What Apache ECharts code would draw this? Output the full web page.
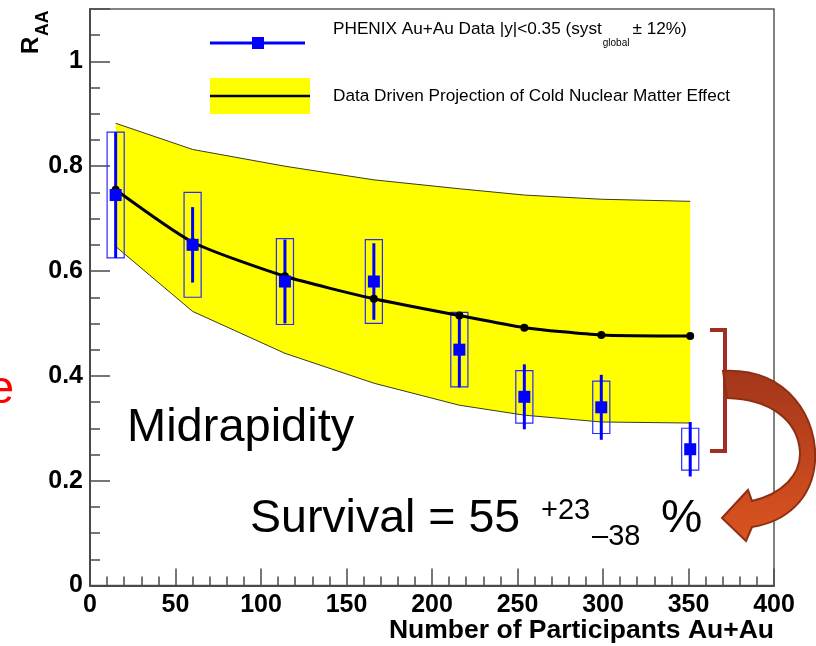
<!DOCTYPE html>
<html>
<head>
<meta charset="utf-8">
<script src="https://cdn.jsdelivr.net/npm/echarts@6/dist/echarts.min.js"></script>
<style>
  html, body { margin: 0; padding: 0; background: #ffffff; }
  #chart { width: 816px; height: 646px; }
</style>
</head>
<body>
<div id="chart"></div>
<script>
// Number of participants for each centrality bin
const npart = [15, 60, 114, 166, 216, 254, 299, 351];
// PHENIX Au+Au J/psi R_AA at midrapidity
const raa = [0.745, 0.65, 0.58, 0.58, 0.45, 0.36, 0.34, 0.26];
// statistical (bar) and systematic (box) uncertainties
const statErr = [0.12, 0.072, 0.08, 0.073, 0.072, 0.062, 0.062, 0.052];
const systErr = [0.12, 0.10, 0.082, 0.08, 0.071, 0.05, 0.05, 0.04];
// cold nuclear matter projection: central curve and band edges
const cnmCentral = [0.755, 0.655, 0.59, 0.547, 0.515, 0.492, 0.478, 0.476];
const cnmUpper = [0.882, 0.832, 0.80, 0.774, 0.757, 0.745, 0.737, 0.733];
const cnmLower = [0.647, 0.523, 0.443, 0.386, 0.344, 0.325, 0.312, 0.31];
// half width of the systematic boxes, in Npart units
const boxHalfWidth = 5;

const FONT = '"Liberation Sans", Arial, Helvetica, sans-serif';
const mctx = document.createElement('canvas').getContext('2d');
function textWidth(t, font) { mctx.font = font; return mctx.measureText(t).width; }

// curved arrow outline, registered as a reusable shape
echarts.graphic.registerShape('curvedArrow', echarts.graphic.extendPath(
  'M 723 371 C 790 368 818 420 815 462 C 812 500 785 522 752 527 L 746 541 L 722 518 L 748 490 L 752 501 C 782 494 801 475 800 452 C 798 420 770 399 727 398 Z',
  {}
));

const chart = echarts.init(document.getElementById('chart'), null, { renderer: 'canvas' });

const axisColor = '#4a4a4a';

// legend pieces (drawn as graphics inside the frame)
const legFont = '17.2px ' + FONT;
const leg1a = 'PHENIX Au+Au Data |y|<0.35 (syst';
const leg1aW = textWidth(leg1a, legFont);
const legSubFont = '10px ' + FONT;
const leg1sub = 'global';
const leg1subW = textWidth(leg1sub, legSubFont);

function txt(x, y, text, font, fill, align, extra) {
  return Object.assign({
    type: 'text', x: x, y: y, z: 60,
    style: { text: text, font: font, fill: fill, align: align, verticalAlign: 'middle', textAlign: align, textVerticalAlign: 'middle' }
  }, extra || {});
}

const graphics = [
  // y axis title R_AA (rotated)
  txt(31.5, 54, 'R', 'bold 24px ' + FONT, '#000', 'left', { rotation: Math.PI / 2 }),
  txt(43.5, 36, 'AA', 'bold 17.5px ' + FONT, '#000', 'left', { rotation: Math.PI / 2 }),
  // x axis title
  txt(774, 631, 'Number of Participants Au+Au', 'bold 26.5px ' + FONT, '#000', 'right'),

  // legend entry 1: data marker
  { type: 'line', z: 50, shape: { x1: 210, y1: 43, x2: 305, y2: 43 }, style: { stroke: '#0000ff', lineWidth: 3 } },
  { type: 'rect', z: 51, shape: { x: 252, y: 37, width: 12, height: 12 }, style: { fill: '#0000ff' } },
  txt(333, 29, leg1a, legFont, '#000', 'left'),
  txt(333 + leg1aW + 1, 43, leg1sub, legSubFont, '#000', 'left'),
  txt(333 + leg1aW + leg1subW + 4, 29, '\u00b1 12%)', legFont, '#000', 'left'),
  // legend entry 2: projection band
  { type: 'rect', z: 50, shape: { x: 210, y: 78, width: 100, height: 36 }, style: { fill: '#ffff00' } },
  { type: 'line', z: 51, shape: { x1: 210, y1: 96, x2: 310, y2: 96 }, style: { stroke: '#000', lineWidth: 2.5 } },
  txt(333, 96, 'Data Driven Projection of Cold Nuclear Matter Effect', legFont, '#000', 'left'),

  // annotations
  txt(127, 428, 'Midrapidity', '47px ' + FONT, '#000', 'left'),
  txt(250, 519, 'Survival = 55', '46.5px ' + FONT, '#000', 'left'),
  txt(541, 511, '+23', '29px ' + FONT, '#000', 'left'),
  txt(592, 537, '\u201338', '29px ' + FONT, '#000', 'left'),
  txt(661, 519, '%', '46.5px ' + FONT, '#000', 'left'),
  txt(14, 390, 'e', '46.5px ' + FONT, '#ff0000', 'right'),

  // bracket marking the suppression range
  { type: 'polyline', z: 60, shape: { points: [[710, 330], [725, 330], [725, 451], [710, 451]] },
    style: { stroke: '#a12e24', lineWidth: 4, fill: null } },
  // curved arrow pointing at the survival estimate
  { type: 'curvedArrow', z: 61,
    style: {
      fill: new echarts.graphic.LinearGradient(0, 0, 0, 1, [
        { offset: 0, color: '#a3361a' }, { offset: 1, color: '#dc5420' }
      ]),
      stroke: '#8e2f14', lineWidth: 2
    } }
];

const option = {
  animation: false,
  backgroundColor: '#ffffff',
  grid: { left: 90, right: 42, top: 9, bottom: 60.5, show: true, borderColor: '#5a5a5a', borderWidth: 1.5, backgroundColor: 'transparent' },
  xAxis: {
    type: 'value', min: 0, max: 400, interval: 50,
    axisLine: { show: true, onZero: false, lineStyle: { color: axisColor, width: 2 } },
    axisTick: { show: true, inside: true, length: 17, lineStyle: { color: axisColor, width: 1.5 } },
    minorTick: { show: true, splitNumber: 5, length: 9, lineStyle: { color: axisColor, width: 1.5 } },
    splitLine: { show: false },
    axisLabel: { fontSize: 25, fontWeight: 'bold', fontFamily: FONT, color: '#000', margin: 7 }
  },
  yAxis: {
    type: 'value', min: 0, max: 1.1, interval: 0.2,
    axisLine: { show: true, onZero: false, lineStyle: { color: axisColor, width: 2 } },
    axisTick: { show: true, inside: true, length: 20, lineStyle: { color: axisColor, width: 1.5 } },
    minorTick: { show: true, splitNumber: 4, length: 10, lineStyle: { color: axisColor, width: 1.5 } },
    splitLine: { show: false },
    axisLabel: {
      fontSize: 25, fontWeight: 'bold', fontFamily: FONT, color: '#000', margin: 7,
      padding: [7, 0, 0, 0],
      formatter: v => (v > 1.05 ? '' : String(Math.round(v * 10) / 10))
    }
  },
  graphic: graphics,
  series: [
    {
      // projection band
      type: 'custom', name: 'CNM band', z: 1, silent: true,
      data: [[npart[0], cnmUpper[0]]],
      encode: { x: 0, y: 1 },
      renderItem: (params, api) => {
        const top = npart.map((x, i) => api.coord([x, cnmUpper[i]]));
        const bot = npart.map((x, i) => api.coord([x, cnmLower[i]]));
        return {
          type: 'group',
          children: [
            { type: 'polygon', shape: { points: top.concat(bot.slice().reverse()) }, style: { fill: '#ffff00' } },
            { type: 'polyline', shape: { points: top }, style: { stroke: '#3a3a20', lineWidth: 1, fill: null } },
            { type: 'polyline', shape: { points: bot }, style: { stroke: '#3a3a20', lineWidth: 1, fill: null } }
          ]
        };
      }
    },
    {
      // systematic boxes
      type: 'custom', name: 'syst', z: 2, silent: true,
      data: npart.map((x, i) => [x, raa[i], systErr[i]]),
      encode: { x: 0, y: 1 },
      renderItem: (params, api) => {
        const x = api.value(0), y = api.value(1), s = api.value(2);
        const p1 = api.coord([x - boxHalfWidth, y + s]);
        const p2 = api.coord([x + boxHalfWidth, y - s]);
        return { type: 'rect', shape: { x: p1[0], y: p1[1], width: p2[0] - p1[0], height: p2[1] - p1[1] },
                 style: { fill: null, stroke: '#2a2aff', lineWidth: 1.2 } };
      }
    },
    {
      // statistical error bars
      type: 'custom', name: 'stat', z: 3, silent: true,
      data: npart.map((x, i) => [x, raa[i], statErr[i]]),
      encode: { x: 0, y: 1 },
      renderItem: (params, api) => {
        const x = api.value(0), y = api.value(1), e = api.value(2);
        const a = api.coord([x, y + e]);
        const b = api.coord([x, y - e]);
        return { type: 'line', shape: { x1: a[0], y1: a[1], x2: b[0], y2: b[1] },
                 style: { stroke: '#0000ff', lineWidth: 3 } };
      }
    },
    {
      type: 'line', name: 'Data Driven Projection of Cold Nuclear Matter Effect', z: 4,
      data: npart.map((x, i) => [x, cnmCentral[i]]),
      smooth: 0.2,
      symbol: 'circle', symbolSize: 8,
      itemStyle: { color: '#000' },
      lineStyle: { color: '#000', width: 3 }
    },
    {
      type: 'scatter', name: 'PHENIX Au+Au Data', z: 5,
      data: npart.map((x, i) => [x, raa[i]]),
      symbol: 'rect', symbolSize: 12,
      itemStyle: { color: '#0000ff', opacity: 1 }
    }
  ]
};

chart.setOption(option);
</script>
</body>
</html>
